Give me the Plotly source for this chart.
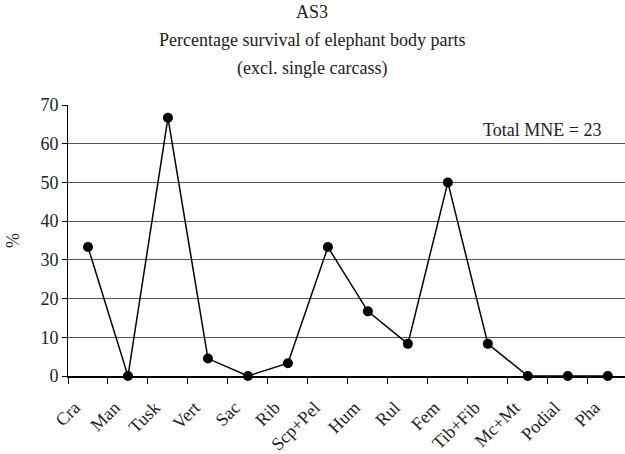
import plotly.graph_objects as go

categories = ["Cra", "Man", "Tusk", "Vert", "Sac", "Rib", "Scp+Pel", "Hum", "Rul",
              "Fem", "Tib+Fib", "Mc+Mt", "Podial", "Pha"]
survival_pct = [33.3, 0, 66.7, 4.5, 0, 3.3, 33.3, 16.7, 8.3, 50, 8.3, 0, 0, 0]
y_ticks = [0, 10, 20, 30, 40, 50, 60, 70]

FONT = "Liberation Serif, Times New Roman, serif"
FS = 18

idx = list(range(len(categories)))
X_RANGE = [-0.5, 13.43]
LABEL_SHIFT = 0.33  # label offset along the axis, in category units

fig = go.Figure()
fig.add_trace(go.Scatter(
    x=idx, y=survival_pct, mode="lines+markers",
    line=dict(color="black", width=1.5),
    marker=dict(color="black", size=10),
    showlegend=False, cliponaxis=False, hoverinfo="skip",
))
# invisible companion trace that carries the category tick labels
fig.add_trace(go.Scatter(
    x=idx, y=survival_pct, mode="markers", xaxis="x2",
    marker=dict(opacity=0), showlegend=False, hoverinfo="skip",
))

L, R, T, B = 68, 0, 105, 78
fig.update_layout(
    width=625, height=454,
    margin=dict(l=L, r=R, t=T, b=B, autoexpand=False),
    paper_bgcolor="white", plot_bgcolor="white",
    font=dict(family=FONT, size=FS, color="#222"),
    xaxis=dict(
        range=X_RANGE, tickmode="array",
        tickvals=[i - 0.5 for i in idx] + [idx[-1] + 0.5],
        showticklabels=False,
        ticks="outside", ticklen=6, tickcolor="black", tickwidth=1,
        showgrid=False, showline=True, linecolor="black",
        linewidth=1.5, zeroline=False, automargin=False,
    ),
    xaxis2=dict(
        overlaying="x", anchor="y", side="bottom",
        range=[X_RANGE[0] + LABEL_SHIFT, X_RANGE[1] + LABEL_SHIFT],
        tickmode="array", tickvals=idx, ticktext=categories,
        ticks="outside", ticklen=13, tickcolor="rgba(0,0,0,0)",
        tickangle=-45, showgrid=False, showline=False, zeroline=False,
        automargin=False, tickfont=dict(size=FS, family=FONT, color="#222"),
    ),
    yaxis=dict(
        range=[0, 70], tickvals=y_ticks, ticks="outside", ticklen=5,
        tickcolor="black", showline=True, linecolor="black", linewidth=1,
        showgrid=True, gridcolor="#555", gridwidth=1, zeroline=False,
        automargin=False, tickfont=dict(size=FS, family=FONT),
        title=dict(text="%", font=dict(size=FS, family=FONT), standoff=16),
    ),
)

plot_w = 625 - L - R
plot_h = 454 - T - B


def px_ann(text, px_x, px_y, xanchor="center"):
    fig.add_annotation(
        text=text, x=(px_x - L) / plot_w, y=(454 - B - px_y) / plot_h,
        xref="paper", yref="paper", xanchor=xanchor, yanchor="middle",
        showarrow=False, font=dict(size=FS, family=FONT, color="#222"),
    )


px_ann("AS3", 312, 12)
px_ann("Percentage survival of elephant body parts", 312, 40)
px_ann("(excl. single carcass)", 312, 68)
px_ann("Total MNE = 23", 603, 130, xanchor="right")

fig.write_html("out.html", config={"displayModeBar": False},
               post_script="document.body.style.margin='0';document.body.style.overflow='hidden';")
